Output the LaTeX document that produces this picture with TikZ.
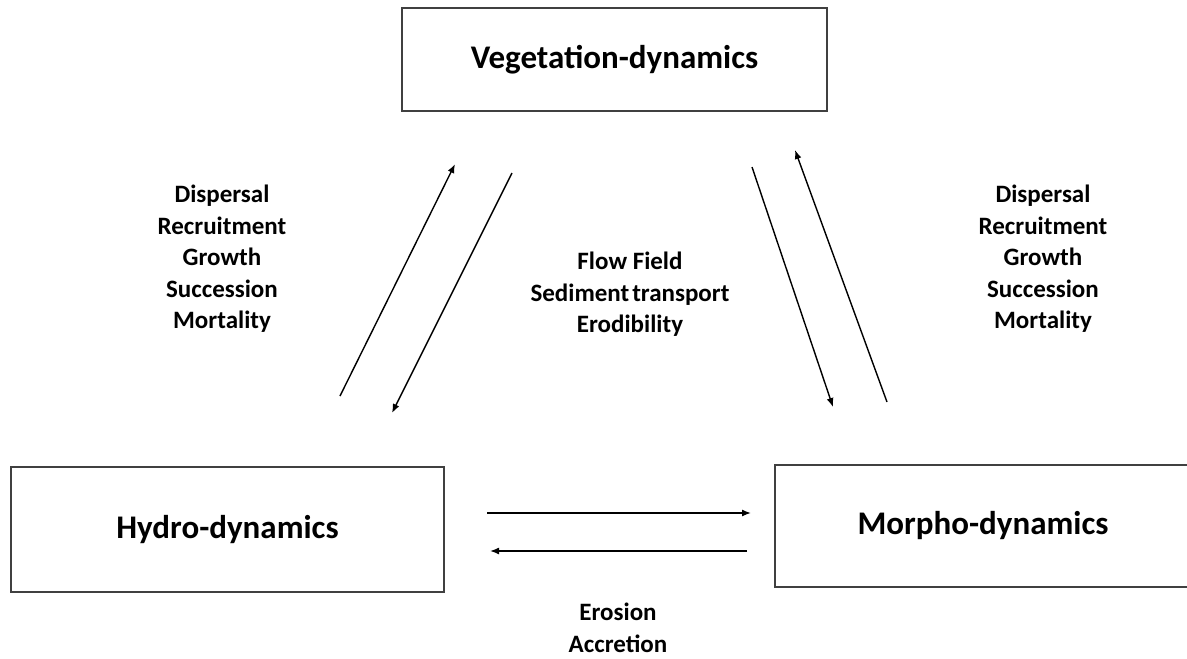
\documentclass[tikz,border=0pt]{standalone}
\usepackage{fontspec}
\setmainfont{Carlito}
\usetikzlibrary{arrows.meta}

\begin{document}
\begin{tikzpicture}[x=1pt,y=-1pt,
  box/.style={draw=black!75, line width=1.2pt, inner sep=0pt,
    font=\fontsize{33}{39}\selectfont\bfseries},
  lbl/.style={align=center, font=\fontsize{25}{31.5}\selectfont\bfseries},
  arr/.style={line width=1.4pt, -{Latex[length=9pt,width=7pt]}}]
\clip (0,0) rectangle (1187,659);

\node[box, minimum width=425, minimum height=103] (veg) at (614.5,59.5) {Vegetation-dynamics};
\node[box, minimum width=433, minimum height=125] (hydro) at (227.5,529.5) {Hydro-dynamics};
\node[box, minimum width=416, minimum height=122] (morpho) at (983,526) {Morpho-dynamics};

\node[lbl] (vh) at (222,259) {Dispersal\\Recruitment\\Growth\\Succession\\Mortality};
\node[lbl] (vm) at (1043,259) {Dispersal\\Recruitment\\Growth\\Succession\\Mortality};
\node[lbl] (flow) at (630,294.5) {Flow Field\\Sediment\hspace{3pt}transport\\Erodibility};
\node[lbl, inner sep=1pt] (ero) at (618,628) {Erosion\\Accretion};

% arrow ends
\coordinate (hv1) at (340,396);
\coordinate (hv2) at (455,164);
\coordinate (vh1) at (512,173);
\coordinate (vh2) at (392,413);
\coordinate (vm1) at (752,167);
\coordinate (vm2) at (833,407);
\coordinate (mv1) at (887,402);
\coordinate (mv2) at (795,150);
\coordinate (hm1) at (487,513);
\coordinate (hm2) at (751,513);
\coordinate (mh1) at (747,551);
\coordinate (mh2) at (490,551);

\draw[arr] (hv1) -- (hv2);
\draw[arr] (vh1) -- (vh2);
\draw[arr] (vm1) -- (vm2);
\draw[arr] (mv1) -- (mv2);
\draw[arr] (hm1) -- (hm2);
\draw[arr] (mh1) -- (mh2);
\end{tikzpicture}
\end{document}
